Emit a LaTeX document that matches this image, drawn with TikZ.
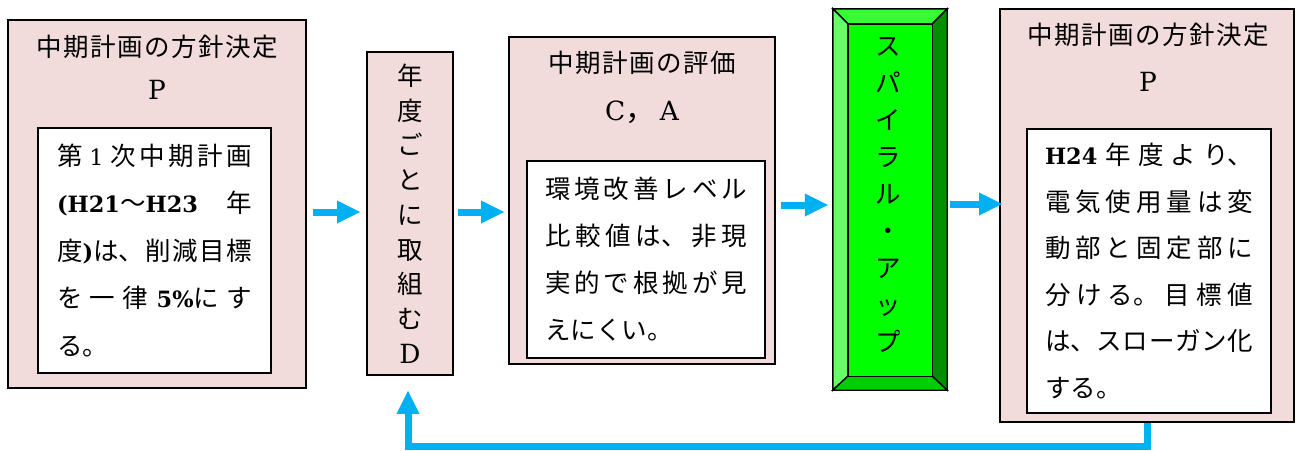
\documentclass[tikz,border=0pt]{standalone}
\usepackage{fontspec}
\setmainfont{Noto Sans CJK JP}
\newfontfamily\lat[Scale=0.88]{DejaVu Serif}
\usetikzlibrary{arrows.meta,calc}
\XeTeXlinebreaklocale "ja"
\XeTeXlinebreakskip=0pt plus 8pt
\tolerance=10000
\hbadness=10000
\definecolor{boxpink}{HTML}{F2DCDB}
\definecolor{arrowblue}{HTML}{00B0F0}
\definecolor{gtop}{HTML}{33FF33}
\definecolor{gleft}{HTML}{66FF66}
\definecolor{gright}{HTML}{008F00}
\definecolor{gbottom}{HTML}{00CC00}
\definecolor{gmid}{HTML}{00FF00}
\begin{document}
\begin{tikzpicture}[x=1pt,y=-1pt,
  outerbox/.style={draw=black,line width=1.6pt,fill=boxpink,inner sep=0pt},
  innerbox/.style={draw=black,line width=1.6pt,fill=white,inner sep=0pt,align=justify},
  ttl/.style={inner sep=0pt,font=\fontsize{25.5}{30}\selectfont\addfontfeature{LetterSpace=6}},
  ltr/.style={inner sep=0pt,font=\fontsize{30}{32}\selectfont\lat},
  bevel/.style={draw=black,line width=1.4pt},
  arr/.style={draw=arrowblue,line width=7pt,-{Triangle[length=23pt,width=23pt,line width=0pt]}}
]
\useasboundingbox (0,0) rectangle (1298,450);

% left P box
\node[outerbox,minimum width=298pt,minimum height=368pt] (b1) at (157,204) {};
\node[ttl] (b1t) at (157,47) {中期計画の方針決定};
\node[ltr] (b1p) at (157,90) {P};
\node[innerbox,minimum width=233pt,minimum height=245pt,text width=195pt,
  font=\fontsize{25.5}{47.5}\selectfont] (b1i) at (154.5,250.5)
  {第 {\lat 1} 次中期計画\linebreak{\lat\bfseries (H21}～{\lat\bfseries H23} 年\linebreak 度{\lat\bfseries )}は、削減目標\linebreak を一律 {\lat\bfseries 5\%}にす\linebreak る。};

% D box
\node[outerbox,minimum width=86pt,minimum height=323pt,align=center,
  font=\fontsize{25.5}{34.75}\selectfont] (d) at (410,213.5)
  {年\\度\\ご\\と\\に\\取\\組\\む\\{\lat\fontsize{30}{34.75}\selectfont D}};

% C,A box
\node[outerbox,minimum width=266pt,minimum height=327pt] (ca) at (642,200.5) {};
\node[ttl] (cat) at (642,63) {中期計画の評価};
\node[ltr] (cal) at (642,112) {C{\rmfamily ，}\,A};
\node[innerbox,minimum width=238pt,minimum height=197pt,text width=202pt,
  font=\fontsize{25.5}{47}\selectfont] (cai) at (646,259.5)
  {環境改善レベル\linebreak 比較値は、非現\linebreak 実的で根拠が見\linebreak えにくい。};

% green bevel box
\node[minimum width=114pt,minimum height=381pt,inner sep=0pt] (g) at (890,199.5) {};
\coordinate (g1) at ($(g.north west)+(15,15)$);
\coordinate (g2) at ($(g.north east)+(-15,15)$);
\coordinate (g3) at ($(g.south east)+(-15,-14)$);
\coordinate (g4) at ($(g.south west)+(15,-14)$);
\filldraw[bevel,fill=gtop] (g.north west) -- (g.north east) -- (g2) -- (g1) -- cycle;
\filldraw[bevel,fill=gleft] (g.north west) -- (g1) -- (g4) -- (g.south west) -- cycle;
\filldraw[bevel,fill=gright] (g.north east) -- (g.south east) -- (g3) -- (g2) -- cycle;
\filldraw[bevel,fill=gbottom] (g.south west) -- (g.south east) -- (g3) -- (g4) -- cycle;
\filldraw[bevel,fill=gmid] (g1) rectangle (g3);
\node[align=center,inner sep=0pt,font=\fontsize{25.5}{37}\selectfont] (gt) at (888,195)
  {ス\\パ\\イ\\ラ\\ル\\・\\ア\\ッ\\プ};

% right P box
\node[outerbox,minimum width=294pt,minimum height=413pt] (rp) at (1147,215.5) {};
\node[ttl] (rpt) at (1148,35) {中期計画の方針決定};
\node[ltr] (rpp) at (1148,82) {P};
\node[innerbox,minimum width=244pt,minimum height=284pt,text width=208pt,
  font=\fontsize{25.5}{46.6}\selectfont] (rpi) at (1149,271)
  {{\lat\bfseries H24} 年度より、\linebreak 電気使用量は変\linebreak 動部と固定部に\linebreak 分ける。目標値\linebreak は、スローガン化\linebreak する。};

% arrows
\draw[arr] ([xshift=6pt,yshift=-8pt]b1.east) -- ([xshift=-6pt,yshift=1.5pt]d.west);
\draw[arr] ([xshift=4pt,yshift=1.5pt]d.east) -- ([xshift=-4pt,yshift=-11.5pt]ca.west);
\draw[arr] ([xshift=5pt,yshift=-4.5pt]ca.east) -- ([xshift=-5pt,yshift=-5.5pt]g.west);
\draw[arr] ([xshift=3pt,yshift=-4.5pt]g.east) -- ([xshift=3pt,yshift=11.5pt]rp.west);
\coordinate (lb) at (0,446);
\coordinate (up) at ([xshift=-2pt,yshift=-15pt]d.south);
\draw[arr,line join=miter] (rp.south) |- (up |- lb) -- (up);
\end{tikzpicture}
\end{document}
